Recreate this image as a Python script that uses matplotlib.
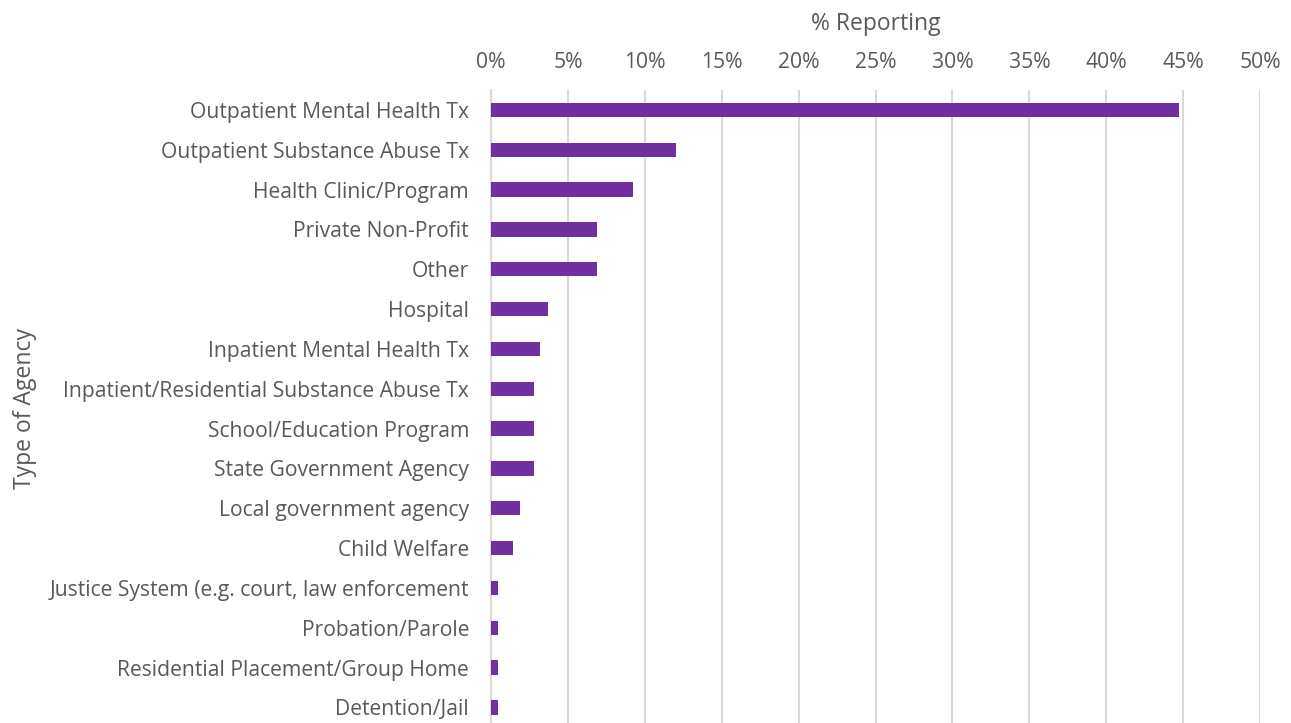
import matplotlib
matplotlib.use('Agg')
import matplotlib.pyplot as plt
from matplotlib.ticker import PercentFormatter

agencies = [
    'Outpatient Mental Health Tx',
    'Outpatient Substance Abuse Tx',
    'Health Clinic/Program',
    'Private Non-Profit',
    'Other',
    'Hospital',
    'Inpatient Mental Health Tx',
    'Inpatient/Residential Substance Abuse Tx',
    'School/Education Program',
    'State Government Agency',
    'Local government agency',
    'Child Welfare',
    'Justice System (e.g. court, law enforcement',
    'Probation/Parole',
    'Residential Placement/Group Home',
    'Detention/Jail',
]
pct_reporting = [44.7, 12.0, 9.2, 6.9, 6.9, 3.7, 3.2, 2.75, 2.75, 2.75,
                 1.85, 1.4, 0.45, 0.45, 0.45, 0.45]

text_gray = '#595959'
grid_gray = '#D9D9D9'
plt.rcParams['font.family'] = ['Open Sans', 'DejaVu Sans']

fig = plt.figure(figsize=(12.91, 7.23), dpi=100)
ax = fig.add_axes([0.3805, -0.006, 0.5955, 0.8815])

pos = list(range(len(agencies)))
ax.barh(pos, pct_reporting, height=0.36, color='#7030A0', zorder=3)

ax.set_xlim(0, 50)
ax.set_ylim(len(agencies) - 0.5, -0.5)
ax.set_yticks(pos)
ax.set_yticklabels(agencies, fontsize=15.2, color=text_gray)
ax.set_xticks(range(0, 51, 5))
ax.xaxis.set_major_formatter(PercentFormatter(decimals=0))
ax.xaxis.tick_top()
ax.xaxis.set_label_position('top')
ax.tick_params(axis='x', labelsize=15.2, labelcolor=text_gray, length=0, pad=12)
ax.tick_params(axis='y', length=0, pad=16)

ax.grid(axis='x', color=grid_gray, linewidth=1.5, zorder=0)
for side in ['top', 'right', 'bottom']:
    ax.spines[side].set_visible(False)
ax.spines['left'].set_color(grid_gray)
ax.spines['left'].set_linewidth(1.5)

ax.set_xlabel('% Reporting', fontsize=16.5, color=text_gray, labelpad=16)
fig.text(0.019, 0.435, 'Type of Agency', rotation=90, fontsize=16.5,
         color=text_gray, ha='center', va='center')

fig.savefig('out.png', dpi=100)
